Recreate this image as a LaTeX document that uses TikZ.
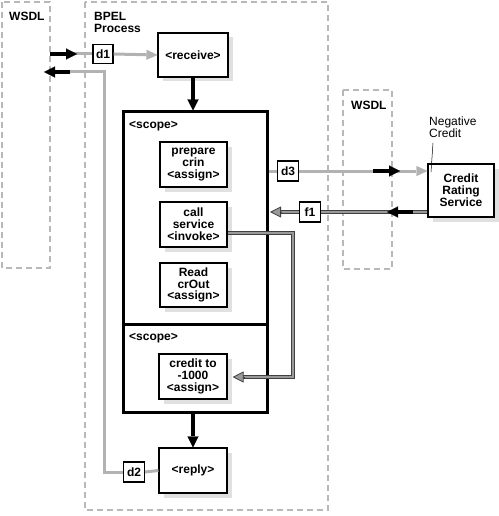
\documentclass[tikz,border=0pt]{standalone}
\usepackage{fontspec}
\setmainfont{Liberation Sans}
\usetikzlibrary{arrows.meta,shadows,calc}
\begin{document}
\begin{tikzpicture}[x=1pt,y=-1pt,
  every node/.style={font=\bfseries\fontsize{12}{11.8}\selectfont, inner sep=0pt},
  act/.style={draw=black, line width=1.1pt, fill=white, align=center,
    minimum width=67pt, minimum height=45pt,
    drop shadow={shadow xshift=4.5pt, shadow yshift=-4.5pt, fill=black!12, opacity=1}},
  dbox/.style={draw=black, line width=1.1pt, fill=white, minimum width=21pt, minimum height=20pt},
  scopebox/.style={draw=black, line width=3pt, minimum width=144pt},
  lbl/.style={anchor=west, align=left},
  wsdlbox/.style={draw=black!28, line width=2pt, dash pattern=on 6pt off 4pt},
  gry/.style={draw=black!30, line width=3pt},
  gryarr/.style={gry, -{Triangle[length=11pt,width=10pt,line width=0.1pt]}},
  blk/.style={draw=black, line width=3.2pt, -{Triangle[length=11pt,width=11pt,line width=0.1pt]}},
  dbl/.style={draw=black!75, line width=0.8pt, double=black!40, double distance=2.4pt, line join=miter},
  dblhead/.style={draw=black!75, line width=0.8pt, -{Triangle[length=11pt,width=11pt,fill=black!40]}},
]
\useasboundingbox (0,0) rectangle (498,516);

% dashed regions
\draw[wsdlbox] (2,2) rectangle (50,268);
\draw[wsdlbox] (85,2) rectangle (328,510);
\draw[wsdlbox] (343,90) rectangle (392,269);

\node[lbl] (wsdlL) at (9,16.5) {WSDL};
\node[lbl] (bpel) at (94,22.5) {BPEL\\Process};
\node[lbl] (wsdlR) at (351,105) {WSDL};

% scopes
\node[scopebox, minimum height=212pt] (scope1) at (195,218) {};
\node[scopebox, minimum height=88pt] (scope2) at (195,368) {};
\node[lbl] (sc1lbl) at (129,126) {<scope>};
\node[lbl] (sc2lbl) at (129,338) {<scope>};

% activities
\node[act, minimum width=70pt, minimum height=44pt] (receive) at (193,55) {<receive>};
\node[act] (prep) at (193.5,164.5) {prepare\\crin\\<assign>};
\node[act] (call) at (193.5,224.5) {call\\service\\<invoke>};
\node[act, minimum height=44pt] (read) at (193.5,285) {Read\\crOut\\<assign>};
\node[act, minimum width=68pt] (credit) at (193,376.5) {credit to\\-1000\\<assign>};
\node[act, minimum width=68pt] (reply) at (193,470.5) {<reply>};
\node[act, minimum width=66pt, minimum height=53pt] (crs) at (461,190.5) {Credit\\Rating\\Service};

\node[anchor=north west, align=left, font=\mdseries\fontsize{12}{11.8}\selectfont] (neg) at (429,117) {Negative\\Credit};
\coordinate (negA) at (433,143);
\coordinate (negB) at (431,172);
\draw[line width=0.5pt] (negA) -- (negB);

% message boxes
\node[dbox, minimum width=20pt, minimum height=19pt] (d1) at (103,54) {d1};
\node[dbox] (d2) at (134,472) {d2};
\node[dbox] (d3) at (288,171) {d3};
\node[dbox] (f1) at (310,212) {f1};

% receive
\coordinate (inA) at (50,54);
\coordinate (inB) at (77,54);
\draw[gry] (60,54) -- (d1.west);
\draw[blk] (inA) -- (inB);
\draw[gryarr] (d1.east) -- (receive.west);

% reply path
\coordinate (rtCorner1) at (104,472);
\coordinate (rtCorner2) at (104,72);
\coordinate (rtA) at (70,72);
\coordinate (rtB) at (44,72);
\draw[gry] (reply.west) -- (d2.east);
\draw[gry, line join=miter] (d2.west) -- (rtCorner1) -- (rtCorner2) -- (60,72);
\draw[blk] (rtA) -- (rtB);

% flow
\draw[blk] (receive.south) -- (scope1.north -| receive.south);
\draw[blk] (scope2.south -| reply.north) -- (reply.north);

% d3 outbound
\draw[gry] (scope1.east |- d3.west) -- (d3.west);
\draw[gryarr] (d3.east) -- (crs.west |- d3.east);
\coordinate (d3A) at (373,171);
\coordinate (d3B) at (400,171);
\draw[blk] (d3A) -- (d3B);

% f1 inbound
\draw[dbl] (crs.west |- f1.east) -- (f1.east);
\coordinate (f1A) at (413,212);
\coordinate (f1B) at (387,212);
\draw[blk] (f1A) -- (f1B);
\coordinate (f1tip) at ($(scope1.east |- f1.west)+(1.5,0)$);
\draw[dbl] (f1.west) -- ($(f1tip)+(10,0)$);
\draw[dblhead] ($(f1tip)+(12,0)$) -- (f1tip);

% invoke fault path
\coordinate (inv1) at ($(call.east)+(0,8.5)$);
\coordinate (bendA) at (293,233);
\coordinate (bendB) at (293,377);
\coordinate (credtip) at ($(credit.east)+(5,0.5)$);
\draw[dbl] (inv1) -- (bendA) -- (bendB) -- ($(credtip)+(10,0)$);
\draw[dblhead] ($(credtip)+(12,0)$) -- (credtip);
\end{tikzpicture}
\end{document}
